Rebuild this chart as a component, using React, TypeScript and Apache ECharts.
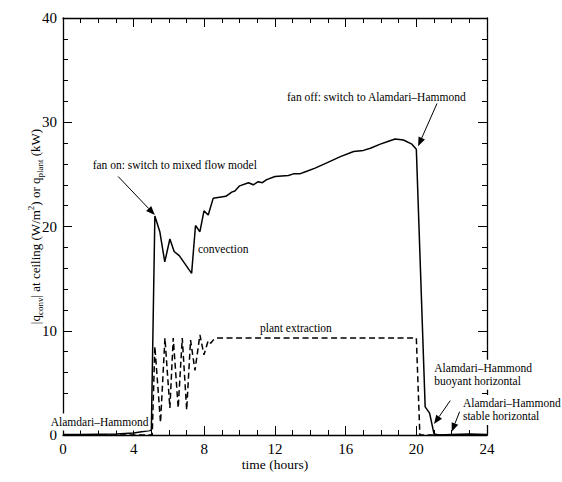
import React, { useEffect, useRef } from "react";
import * as echarts from "echarts";

// convection |q_conv| at ceiling (W/m^2)
const convTime = [0, 1, 2, 3, 4, 5.0, 5.2, 5.48, 5.76, 6.05, 6.29, 6.58, 7.28, 7.5, 7.75, 7.98, 8.22, 8.5, 9.22, 9.55, 9.73, 10.0, 10.5, 10.77, 11.05, 11.28, 11.53, 12.0, 12.76, 13.04, 13.4, 13.8, 14.27, 14.93, 15.7, 16.45, 17.0, 17.4, 17.96, 18.3, 18.8, 19.27, 19.75, 20.0, 20.5, 20.75, 21.0, 21.3, 22, 23, 24];
const convValue = [0.05, 0.05, 0.08, 0.1, 0.2, 0.45, 21.0, 19.5, 16.6, 18.8, 17.6, 17.2, 15.5, 20.1, 19.5, 21.5, 21.1, 22.7, 22.9, 23.3, 23.4, 23.9, 24.2, 24.0, 24.3, 24.2, 24.5, 24.8, 24.9, 25.05, 25.05, 25.3, 25.6, 26.1, 26.7, 27.2, 27.3, 27.5, 27.9, 28.1, 28.4, 28.3, 27.9, 27.4, 2.7, 2.1, 0.1, 0.0, 0.05, 0.1, 0.05];

// plant extraction q_plant (kW)
const plantTime = [0, 5.05, 5.2, 5.52, 5.77, 6.05, 6.24, 6.52, 6.75, 7.0, 7.22, 7.47, 7.75, 7.98, 8.22, 8.36, 8.5, 8.7, 20.0, 20.2, 24];
const plantValue = [0, 0, 8.5, 1.2, 9.3, 2.6, 9.3, 2.6, 9.3, 2.4, 9.1, 6.2, 9.6, 7.7, 9.05, 8.8, 9.1, 9.3, 9.3, 0, 0];

const xTicks = [0, 4, 8, 12, 16, 20, 24];
const yTicks = [0, 10, 20, 30, 40];

const xName = "time (hours)";
const yName = "|q{sub|conv}| at ceiling (W/m{sup|2}) or q{sub|plant} (kW)";

// annotation texts, anchored (left, middle) in data coordinates
const notes = [
  { text: "fan on: switch to mixed flow model", at: [1.68, 25.9], bg: false },
  { text: "convection", at: [7.64, 17.85], bg: false },
  { text: "plant extraction", at: [11.15, 10.27], bg: false },
  { text: "fan off: switch to Alamdari\u2013Hammond", at: [12.68, 32.44], bg: false },
  { text: "Alamdari\u2013Hammond\nbuoyant horizontal", at: [20.96, 5.79], bg: true },
  { text: "Alamdari\u2013Hammond\nstable horizontal", at: [22.58, 2.4], bg: true },
  { text: "Alamdari\u2013Hammond", at: [-0.75, 1.25], bg: true },
];

// arrows: tail -> tip, data coordinates
const arrows = [
  { from: [3.12, 24.8], to: [5.2, 21.1] },
  { from: [21.17, 31.8], to: [20.1, 27.7] },
  { from: [21.92, 3.3], to: [21.0, 1.05] },
  { from: [22.45, 2.24], to: [22.0, 0.3] },
];

const FONT = "'Liberation Serif', 'Times New Roman', serif";

export default function App() {
  const ref = useRef<HTMLDivElement>(null);
  useEffect(() => {
    const chart = echarts.init(ref.current!, null, { renderer: "svg" });
    const axisLine = { show: true, onZero: false, lineStyle: { color: "#000", width: 1.3 } };
    const tick = { show: true, inside: true, length: 9, lineStyle: { color: "#000", width: 1 } };
    const minor = (n: number) => ({ show: true, splitNumber: n, length: 5, lineStyle: { color: "#000", width: 1 } });
    const xMin = xTicks[0], xMax = xTicks[xTicks.length - 1], xInt = xTicks[1] - xTicks[0];
    const yMin = yTicks[0], yMax = yTicks[yTicks.length - 1], yInt = yTicks[1] - yTicks[0];
    const label = { color: "#000", fontFamily: FONT, fontSize: 15 };

    chart.setOption({
      animation: false,
      backgroundColor: "#fff",
      textStyle: { fontFamily: FONT },
      grid: { left: 63, right: 75, top: 18, bottom: 47 },
      xAxis: [
        {
          type: "value", position: "bottom", min: xMin, max: xMax, interval: xInt,
          axisLine, axisTick: tick, minorTick: minor(4), splitLine: { show: false },
          axisLabel: { ...label, margin: 6 },
          name: xName, nameLocation: "middle", nameGap: 22, nameMoveOverlap: false,
          nameTextStyle: { color: "#000", fontFamily: FONT, fontSize: 13.5 },
        },
        {
          type: "value", position: "top", min: xMin, max: xMax, interval: xInt,
          axisLine, axisTick: tick, minorTick: minor(4), splitLine: { show: false },
          axisLabel: { show: false },
        },
      ],
      yAxis: [
        {
          type: "value", position: "left", min: yMin, max: yMax, interval: yInt,
          axisLine, axisTick: tick, minorTick: minor(5), splitLine: { show: false },
          axisLabel: { ...label, margin: 6 },
          name: yName, nameLocation: "middle", nameGap: 19, nameMoveOverlap: false,
          nameTextStyle: {
            color: "#000", fontFamily: FONT, fontSize: 13, lineHeight: 18,
            rich: {
              sub: { fontFamily: FONT, fontSize: 9, lineHeight: 9, verticalAlign: "bottom", color: "#000" },
              sup: { fontFamily: FONT, fontSize: 9, lineHeight: 10, verticalAlign: "top", color: "#000" },
            },
          },
        },
        {
          type: "value", position: "right", min: yMin, max: yMax, interval: yInt,
          axisLine, axisTick: tick, minorTick: minor(5), splitLine: { show: false },
          axisLabel: { show: false },
        },
      ],
      series: [
        {
          type: "line", name: "convection", xAxisIndex: 0, yAxisIndex: 0,
          data: convTime.map((t, i) => [t, convValue[i]]),
          showSymbol: false, symbol: "none",
          lineStyle: { color: "#000", width: 1.5 },
        },
        {
          type: "line", name: "plant extraction", xAxisIndex: 0, yAxisIndex: 0,
          data: plantTime.map((t, i) => [t, plantValue[i]]),
          showSymbol: false, symbol: "none",
          lineStyle: { color: "#000", width: 1.5, type: [6, 3.5] },
        },
      ],
    });

    const px = (p: number[]) => chart.convertToPixel({ seriesIndex: 0 }, p) as number[];
    const elements: any[] = [];
    notes.forEach((n) => {
      const p = px(n.at);
      elements.push({
        type: "text", x: p[0], y: p[1], z: 100,
        style: {
          text: n.text, fill: "#000", fontFamily: FONT, fontSize: 11.5, lineHeight: 13,
          align: "left", verticalAlign: "middle",
          backgroundColor: n.bg ? "#fff" : undefined, padding: n.bg ? [2, 1, 2, 1] : 0,
        },
      });
    });
    arrows.forEach((a) => {
      const p1 = px(a.from), p2 = px(a.to);
      const dx = p2[0] - p1[0], dy = p2[1] - p1[1];
      const len = Math.sqrt(dx * dx + dy * dy);
      const ux = dx / len, uy = dy / len;
      const L = 9, W = 3.5;
      const bx = p2[0] - ux * L, by = p2[1] - uy * L;
      elements.push({ type: "line", z: 101, shape: { x1: p1[0], y1: p1[1], x2: bx, y2: by }, style: { stroke: "#000", lineWidth: 1 } });
      elements.push({
        type: "polygon", z: 101,
        shape: { points: [[p2[0], p2[1]], [bx - uy * W, by + ux * W], [bx + uy * W, by - ux * W]] },
        style: { fill: "#000" },
      });
    });
    chart.setOption({ graphic: elements });
    return () => chart.dispose();
  }, []);
  return <div ref={ref} style={{ position: "absolute", left: 0, top: 0, width: 562, height: 482 }} />;
}
